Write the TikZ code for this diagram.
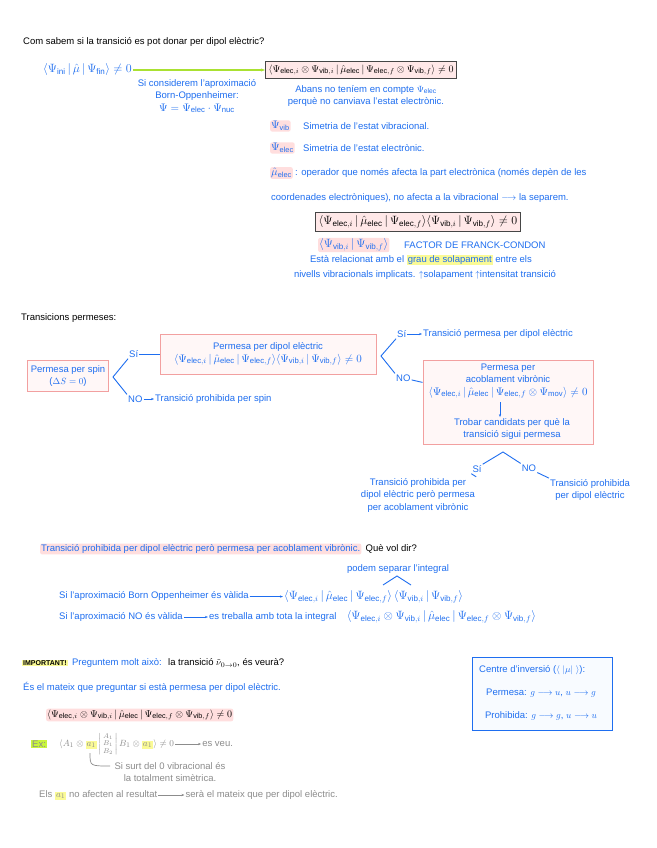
\documentclass[tikz,border=0pt]{standalone}
\usepackage{fontspec}
\usepackage{amsmath}
\setmainfont{Liberation Sans}
\usetikzlibrary{arrows.meta}
\definecolor{myblue}{RGB}{30,110,240}
\definecolor{hlpink}{RGB}{255,222,222}
\definecolor{boxpink}{RGB}{242,160,160}
\definecolor{hlyellow}{RGB}{250,250,150}
\definecolor{hlgreen}{RGB}{200,245,60}
\definecolor{arrgreen}{RGB}{170,225,50}
\definecolor{dgray}{RGB}{70,70,70}
\definecolor{txtgray}{RGB}{140,140,140}
\newcommand{\hw}{\fontsize{9.5}{12.5}\selectfont}
\newcommand{\mf}[1]{\fontsize{#1}{12.5}\selectfont}
\newcommand{\Pel}[1]{\Psi_{\mathrm{elec},#1}}
\newcommand{\Pvb}[1]{\Psi_{\mathrm{vib},#1}}
\newcommand{\mue}{\hat{\mu}_{\mathrm{elec}}}
\newcommand{\hly}[1]{{\setlength{\fboxsep}{1pt}\colorbox{hlyellow}{#1}}}
\tikzset{
  bt/.style={text=myblue, font=\hw, inner sep=1pt},
  kt/.style={text=black, font=\hw, inner sep=1pt},
  gt/.style={text=txtgray, font=\hw, inner sep=1pt},
  hl/.style={fill=hlpink, rounded corners=2pt},
  pbox/.style={draw=boxpink, line width=1pt, fill=hlpink!25, align=center, text=myblue, font=\hw, inner sep=3pt},
  dbox/.style={draw=dgray, line width=1.3pt, fill=hlpink!70, text=black, inner sep=3pt},
  bl/.style={draw=myblue, line width=0.9pt},
  ba/.style={draw=myblue, line width=0.8pt, -{Stealth[length=3pt]}},
  ga/.style={draw=txtgray, line width=0.7pt, -{Stealth[length=3pt]}},
}
\begin{document}
\begin{tikzpicture}[x=1pt,y=-1pt]
\useasboundingbox[fill=white] (0,0) rectangle (656,848);

% ---------- Section 1 ----------
\node[kt, anchor=west] (title) at (22,42) {Com sabem si la transició es pot donar per dipol elèctric?};
\node[bt, anchor=west, font=\mf{11.5}] (ini) at (42,70) {$\langle \Psi_{\mathrm{ini}}\,|\,\hat{\mu}\,|\,\Psi_{\mathrm{fin}}\rangle \neq 0$};
\node[dbox, anchor=west, font=\mf{10.3}] (bigbox) at (265,70) {$\langle \Pel{i}\otimes\Pvb{i}\,|\,\mue\,|\,\Pel{f}\otimes\Pvb{f}\rangle \neq 0$};
\draw[draw=arrgreen, line width=1.6pt, -{Stealth[length=4pt]}] (ini) -- (bigbox);
\node[bt, align=center] (bo) at (197,96) {Si considerem l'aproximació\\Born-Oppenheimer:\\{\mf{11}$\Psi = \Psi_{\mathrm{elec}}\cdot\Psi_{\mathrm{nuc}}$}};
\node[bt, align=center] (abans) at (366,96) {Abans no teníem en compte $\Psi_{\mathrm{elec}}$\\perquè no canviava l'estat electrònic.};

\node[bt, hl, anchor=west, font=\mf{10.5}] (pvib) at (270,126) {$\Psi_{\mathrm{vib}}$};
\node[bt, anchor=west] (pvibt) at (302,126) {Simetria de l'estat vibracional.};
\node[bt, hl, anchor=west, font=\mf{10.5}] (pel) at (270,148) {$\Psi_{\mathrm{elec}}$};
\node[bt, anchor=west] (pelt) at (302,148) {Simetria de l'estat electrònic.};
\node[bt, hl, anchor=west, font=\mf{10.5}] (mu) at (270,173) {$\mue$};
\node[bt, anchor=west] (mut) at ([xshift=1pt]mu.east) {: operador que només afecta la part electrònica (només depèn de les};
\node[bt, anchor=west] (mut2) at (270,198) {coordenades electròniques), no afecta a la vibracional $\longrightarrow$ la separem.};

\node[dbox, font=\mf{11.5}] (box2) at (418,222) {$\langle \Pel{i}\,|\,\mue\,|\,\Pel{f}\rangle\langle \Pvb{i}\,|\,\Pvb{f}\rangle \neq 0$};
\node[bt, hl, anchor=west, font=\mf{11.5}] (fc) at (318,245) {$\langle \Pvb{i}\,|\,\Pvb{f}\rangle$};
\node[bt, anchor=west] (fct) at (403,245) {FACTOR DE FRANCK-CONDON};
\node[bt] (rel1) at (421,260) {Està relacionat amb el \hly{grau de solapament} entre els};
\node[bt] (rel2) at (425,275) {nivells vibracionals implicats. $\uparrow$solapament $\uparrow$intensitat transició};

% ---------- Section 2 ----------
\node[kt, anchor=west] (tp) at (20,318) {Transicions permeses:};
\node[pbox, minimum width=78pt, minimum height=31pt] (spin) at (68,376) {Permesa per spin\\($\Delta S = 0$)};
\coordinate (sp) at (113,377);
\node[bt, anchor=west] (si1) at (128,354) {Sí};
\node[bt, anchor=west] (no1) at (127,399) {NO};
\node[bt, anchor=west] (proh1) at (154,399) {Transició prohibida per spin};
\draw[bl] (si1.south west) -- (sp) -- (no1.north west);
\draw[ba] (no1) -- (proh1);

\node[pbox, minimum width=216pt, minimum height=40pt] (dip) at (268,354) {Permesa per dipol elèctric\\{\mf{11}$\langle \Pel{i}\,|\,\mue\,|\,\Pel{f}\rangle\langle \Pvb{i}\,|\,\Pvb{f}\rangle \neq 0$}};
\draw[bl] (si1) -- (dip);
\coordinate (dp) at (381,356);
\node[bt, anchor=west] (si2) at (396,334) {Sí};
\node[bt, anchor=west] (perm2) at (422,334) {Transició permesa per dipol elèctric};
\node[bt, anchor=west] (no2) at (395,378) {NO};
\draw[bl] (si2.south west) -- (dp) -- (no2.north west);
\draw[ba] (si2) -- (perm2);

\node[pbox, minimum width=170pt, minimum height=84pt] (acob) at (508,402) {};
\draw[bl] (no2) -- (acob);
\node[bt, align=center] (acobt) at (508,381) {Permesa per\\acoblament vibrònic\\{\mf{11}$\langle \Pel{i}\,|\,\mue\,|\,\Pel{f}\otimes\Psi_{\mathrm{mov}}\rangle \neq 0$}};
\node[bt, align=center] (trob) at (512,429) {Trobar candidats per què la\\transició sigui permesa};
\coordinate (dwn) at (500,402);
\draw[ba] (dwn) -- (trob.north -| dwn);

\coordinate (apex) at (503,452);
\node[bt] (si3) at (477,469) {Sí};
\node[bt] (no3) at (529,468) {NO};
\node[bt, align=center] (left3) at (418,495) {Transició prohibida per\\dipol elèctric però permesa\\per acoblament vibrònic};
\node[bt, align=center] (right3) at (590,490) {Transició prohibida\\per dipol elèctric};
\draw[bl] (si3.north east) -- (apex) -- (no3.north west);
\draw[bl] (si3.south west) -- (left3.north east);
\draw[bl] (no3.south east) -- (right3.north west);

% ---------- Section 3 ----------
\node[bt, hl, anchor=west] (pq) at (40,549) {Transició prohibida per dipol elèctric però permesa per acoblament vibrònic.};
\node[kt, anchor=west] (qvd) at ([xshift=3pt]pq.east) {Què vol dir?};
\node[bt] (sep) at (398,569) {podem separar l'integral};
\coordinate (car1) at (383,585);
\coordinate (car2) at (397,576);
\coordinate (car3) at (411,585);
\draw[bl] (car1) -- (car2) -- (car3);
\node[bt, anchor=west] (bov) at (58,596) {Si l'aproximació Born Oppenheimer és vàlida};
\node[bt, anchor=west, font=\mf{11.5}] (bovf) at (283,597) {$\langle \Pel{i}\,|\,\mue\,|\,\Pel{f}\rangle\,\langle \Pvb{i}\,|\,\Pvb{f}\rangle$};
\draw[ba] (bov) -- (bovf);
\node[bt, anchor=west] (bon) at (58,617) {Si l'aproximació NO és vàlida};
\node[bt, anchor=west] (bont) at ([xshift=24pt]bon.east) {es treballa amb tota la integral};
\node[bt, anchor=west, font=\mf{12}] (bonf) at ([xshift=8pt]bont.east) {$\langle \Pel{i}\otimes\Pvb{i}\,|\,\mue\,|\,\Pel{f}\otimes\Pvb{f}\rangle$};
\draw[ba] (bon) -- (bont);

% ---------- Section 4 ----------
\node[kt, anchor=west, fill=hlyellow, font=\fontsize{7}{8}\selectfont\bfseries] (imp) at (22,663) {IMPORTANT!};
\node[bt, anchor=west] (preg) at ([xshift=3pt]imp.east) {Preguntem molt això:};
\node[kt, anchor=west] (tr00) at ([xshift=4pt]preg.east) {la transició $\tilde{\nu}_{0\to 0}$, és veurà?};
\node[bt, anchor=west] (mat) at (22,687) {És el mateix que preguntar si està permesa per dipol elèctric.};
\node[kt, hl, anchor=west, font=\mf{10.3}] (int3) at (46,715) {$\langle \Pel{i}\otimes\Pvb{i}\,|\,\mue\,|\,\Pel{f}\otimes\Pvb{f}\rangle \neq 0$};

\node[draw=myblue, line width=1pt, fill=myblue!3, minimum width=140pt, minimum height=73pt] (ci) at (542,694) {};
\node[bt, anchor=west] (ci1) at (478,670) {Centre d'inversió ($\langle\ |\mu|\ \rangle$):};
\node[bt] (ci2) at (541,693) {Permesa: $g \longrightarrow u$, $u \longrightarrow g$};
\node[bt] (ci3) at (541,716) {Prohibida: $g \longrightarrow g$, $u \longrightarrow u$};

\node[kt, anchor=west, fill=hlgreen, text=txtgray] (ex) at (31,744) {Ex:};
\node[gt, anchor=west] (exf) at (58,744) {$\langle A_1\otimes \hly{$a_1$}\left|\begin{smallmatrix}A_1\\ B_1\\ B_2\end{smallmatrix}\right| B_1\otimes \hly{$a_1$}\rangle \neq 0$};
\node[gt, anchor=west] (veu) at ([xshift=26pt]exf.east) {es veu.};
\draw[ga] (exf) -- (veu);
\coordinate (hk) at (90,753);
\node[gt, align=center] (surt) at (170,772) {Si surt del 0 vibracional és\\la totalment simètrica.};
\coordinate (hkend) at (110,766);
\draw[draw=txtgray, line width=0.7pt] (hk) .. controls (90,766) .. (hkend);
\node[gt, anchor=west] (els) at (38,795) {Els \hly{$a_1$} no afecten al resultat};
\node[gt, anchor=west] (sera) at ([xshift=26pt]els.east) {serà el mateix que per dipol elèctric.};
\draw[ga] (els) -- (sera);
\end{tikzpicture}
\end{document}
